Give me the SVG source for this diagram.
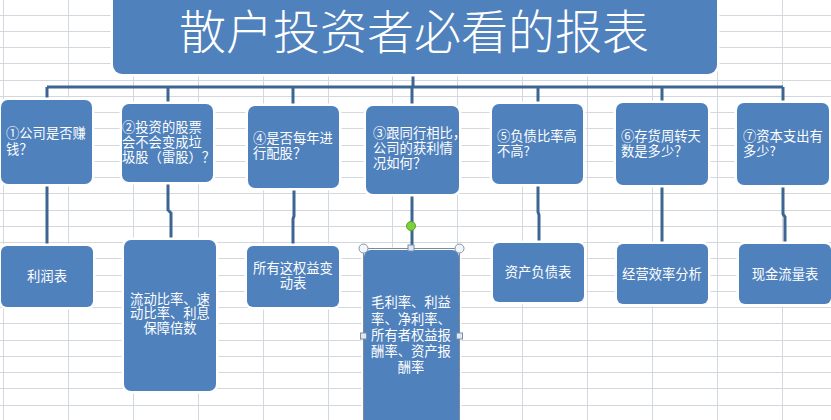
<svg xmlns="http://www.w3.org/2000/svg" width="831" height="420" viewBox="0 0 831 420">
<defs>
<style>
.grid line{stroke:#d3d8df;stroke-width:1}
.box{fill:#4f81bd;stroke:#ffffff;stroke-width:5;paint-order:stroke}
.t{fill:#ffffff;font-family:"Noto Sans CJK SC","Noto Sans",sans-serif;font-size:13.3px}
.c{text-anchor:middle}
.conn path{fill:none;stroke:#3d6591;stroke-width:3}
.h-c{fill:#f2f5f9;stroke:#8796a8;stroke-width:1}
.h-s{fill:#dfe9f5;stroke:#7a8ea6;stroke-width:1}
</style>
</defs>
<rect width="831" height="420" fill="#ffffff"/>
<g class="grid">
<line x1="3.5" y1="0" x2="3.5" y2="420"/><line x1="68.5" y1="0" x2="68.5" y2="420"/><line x1="133.5" y1="0" x2="133.5" y2="420"/><line x1="198.5" y1="0" x2="198.5" y2="420"/><line x1="263.5" y1="0" x2="263.5" y2="420"/><line x1="328.5" y1="0" x2="328.5" y2="420"/><line x1="392.5" y1="0" x2="392.5" y2="420"/><line x1="457.5" y1="0" x2="457.5" y2="420"/><line x1="522.5" y1="0" x2="522.5" y2="420"/><line x1="587.5" y1="0" x2="587.5" y2="420"/><line x1="652.5" y1="0" x2="652.5" y2="420"/><line x1="717.5" y1="0" x2="717.5" y2="420"/><line x1="782.5" y1="0" x2="782.5" y2="420"/>
<line x1="0" y1="15.5" x2="831" y2="15.5"/><line x1="0" y1="31.5" x2="831" y2="31.5"/><line x1="0" y1="47.5" x2="831" y2="47.5"/><line x1="0" y1="63.5" x2="831" y2="63.5"/><line x1="0" y1="80.5" x2="831" y2="80.5"/><line x1="0" y1="96.5" x2="831" y2="96.5"/><line x1="0" y1="112.5" x2="831" y2="112.5"/><line x1="0" y1="128.5" x2="831" y2="128.5"/><line x1="0" y1="145.5" x2="831" y2="145.5"/><line x1="0" y1="161.5" x2="831" y2="161.5"/><line x1="0" y1="177.5" x2="831" y2="177.5"/><line x1="0" y1="193.5" x2="831" y2="193.5"/><line x1="0" y1="210.5" x2="831" y2="210.5"/><line x1="0" y1="226.5" x2="831" y2="226.5"/><line x1="0" y1="242.5" x2="831" y2="242.5"/><line x1="0" y1="258.5" x2="831" y2="258.5"/><line x1="0" y1="275.5" x2="831" y2="275.5"/><line x1="0" y1="291.5" x2="831" y2="291.5"/><line x1="0" y1="307.5" x2="831" y2="307.5"/><line x1="0" y1="323.5" x2="831" y2="323.5"/><line x1="0" y1="340.5" x2="831" y2="340.5"/><line x1="0" y1="356.5" x2="831" y2="356.5"/><line x1="0" y1="372.5" x2="831" y2="372.5"/><line x1="0" y1="388.5" x2="831" y2="388.5"/><line x1="0" y1="405.5" x2="831" y2="405.5"/>
</g>
<g class="conn" id="connectors">
<path d="M413,74 V87"/>
<path d="M47,87 H783"/>
<path d="M47,87 V100"/><path d="M168,87 V104"/><path d="M293,87 V106"/><path d="M412,87 V106"/><path d="M538,87 V104"/><path d="M662,87 V103"/><path d="M783,87 V103"/>
<path d="M47,184 V246"/>
<path d="M168,182 V210 L171,213 V240"/>
<path d="M294,188 V216 L293,219 V246"/>
<path d="M412,194 V250"/>
<path d="M538,184 V212 L539,215 V243"/>
<path d="M662,185 V244"/>
<path d="M783,185 V214 L785,217 V244"/>
</g>
<g id="title">
<rect class="box" x="113" y="-12" width="604" height="86" rx="9"/>
<text x="414" y="49" text-anchor="middle" fill="#ffffff" font-family="Noto Sans CJK SC, sans-serif" font-size="47" font-weight="300">散户投资者必看的报表</text>
</g>
<g id="q1">
<rect class="box" x="1" y="100" width="91" height="84" rx="7"/>
<text class="t" x="6" y="138">①公司是否赚</text>
<text class="t" x="6" y="154">钱？</text>
</g>
<g id="q2">
<rect class="box" x="122" y="104" width="91" height="78" rx="7"/>
<text class="t" x="122" y="132" font-size="13">②投资的股票</text>
<text class="t" x="122" y="147" font-size="13">会不会变成垃</text>
<text class="t" x="122" y="162" font-size="13">圾股（雷股）？</text>
</g>
<g id="q4">
<rect class="box" x="248" y="106" width="91" height="82" rx="7"/>
<text class="t" x="253" y="143">④是否每年进</text>
<text class="t" x="253" y="158">行配股？</text>
</g>
<g id="q3">
<rect class="box" x="366" y="106" width="93" height="88" rx="7"/>
<text class="t" x="373" y="138">③跟同行相比，</text>
<text class="t" x="373" y="153">公司的获利情</text>
<text class="t" x="373" y="168">况如何？</text>
</g>
<g id="q5">
<rect class="box" x="492" y="104" width="91" height="80" rx="7"/>
<text class="t" x="497" y="141">⑤负债比率高</text>
<text class="t" x="497" y="156">不高?</text>
</g>
<g id="q6">
<rect class="box" x="616" y="103" width="92" height="82" rx="7"/>
<text class="t" x="621" y="141">⑥存货周转天</text>
<text class="t" x="621" y="156">数是多少？</text>
</g>
<g id="q7">
<rect class="box" x="737" y="103" width="92" height="82" rx="7"/>
<text class="t" x="743" y="141">⑦资本支出有</text>
<text class="t" x="743" y="156">多少?</text>
</g>
<g id="a1">
<rect class="box" x="1" y="246" width="92" height="61" rx="6"/>
<text class="t c" x="47" y="281">利润表</text>
</g>
<g id="a2">
<rect class="box" x="124" y="240" width="92" height="151" rx="7"/>
<text class="t c" x="170" y="304">流动比率、速</text>
<text class="t c" x="170" y="318">动比率、利息</text>
<text class="t c" x="170" y="333">保障倍数</text>
</g>
<g id="a4">
<rect class="box" x="247" y="246" width="92" height="61" rx="6"/>
<text class="t c" x="293" y="273">所有这权益变</text>
<text class="t c" x="293" y="288">动表</text>
</g>
<g id="a3">
<rect class="box" x="364" y="250" width="95" height="190" rx="7"/>
<text class="t c" x="411" y="307">毛利率、利益</text>
<text class="t c" x="411" y="324">率、净利率、</text>
<text class="t c" x="411" y="340">所有者权益报</text>
<text class="t c" x="411" y="356">酬率、资产报</text>
<text class="t c" x="411" y="372">酬率</text>
</g>
<g id="a5">
<rect class="box" x="493" y="243" width="91" height="59" rx="6"/>
<text class="t c" x="538" y="277">资产负债表</text>
</g>
<g id="a6">
<rect class="box" x="617" y="244" width="91" height="60" rx="6"/>
<text class="t c" x="662" y="279">经营效率分析</text>
</g>
<g id="a7">
<rect class="box" x="739" y="244" width="92" height="60" rx="6"/>
<text class="t c" x="785" y="279">现金流量表</text>
</g>
<g id="selection">
<rect x="363.5" y="248.5" width="96" height="180" fill="none" stroke="#7d8a99" stroke-width="1"/>
<circle cx="411" cy="226" r="4.5" fill="#7fd13b" stroke="#5c9e2c" stroke-width="1"/>
<circle class="h-c" cx="363.5" cy="248.5" r="4.5"/>
<circle class="h-c" cx="459.5" cy="248.5" r="4.5"/>
<rect class="h-s" x="408" y="245" width="6" height="6"/>
<rect class="h-s" x="360.5" y="333" width="6" height="6"/>
<rect class="h-s" x="456.5" y="333" width="6" height="6"/>
</g>
</svg>
